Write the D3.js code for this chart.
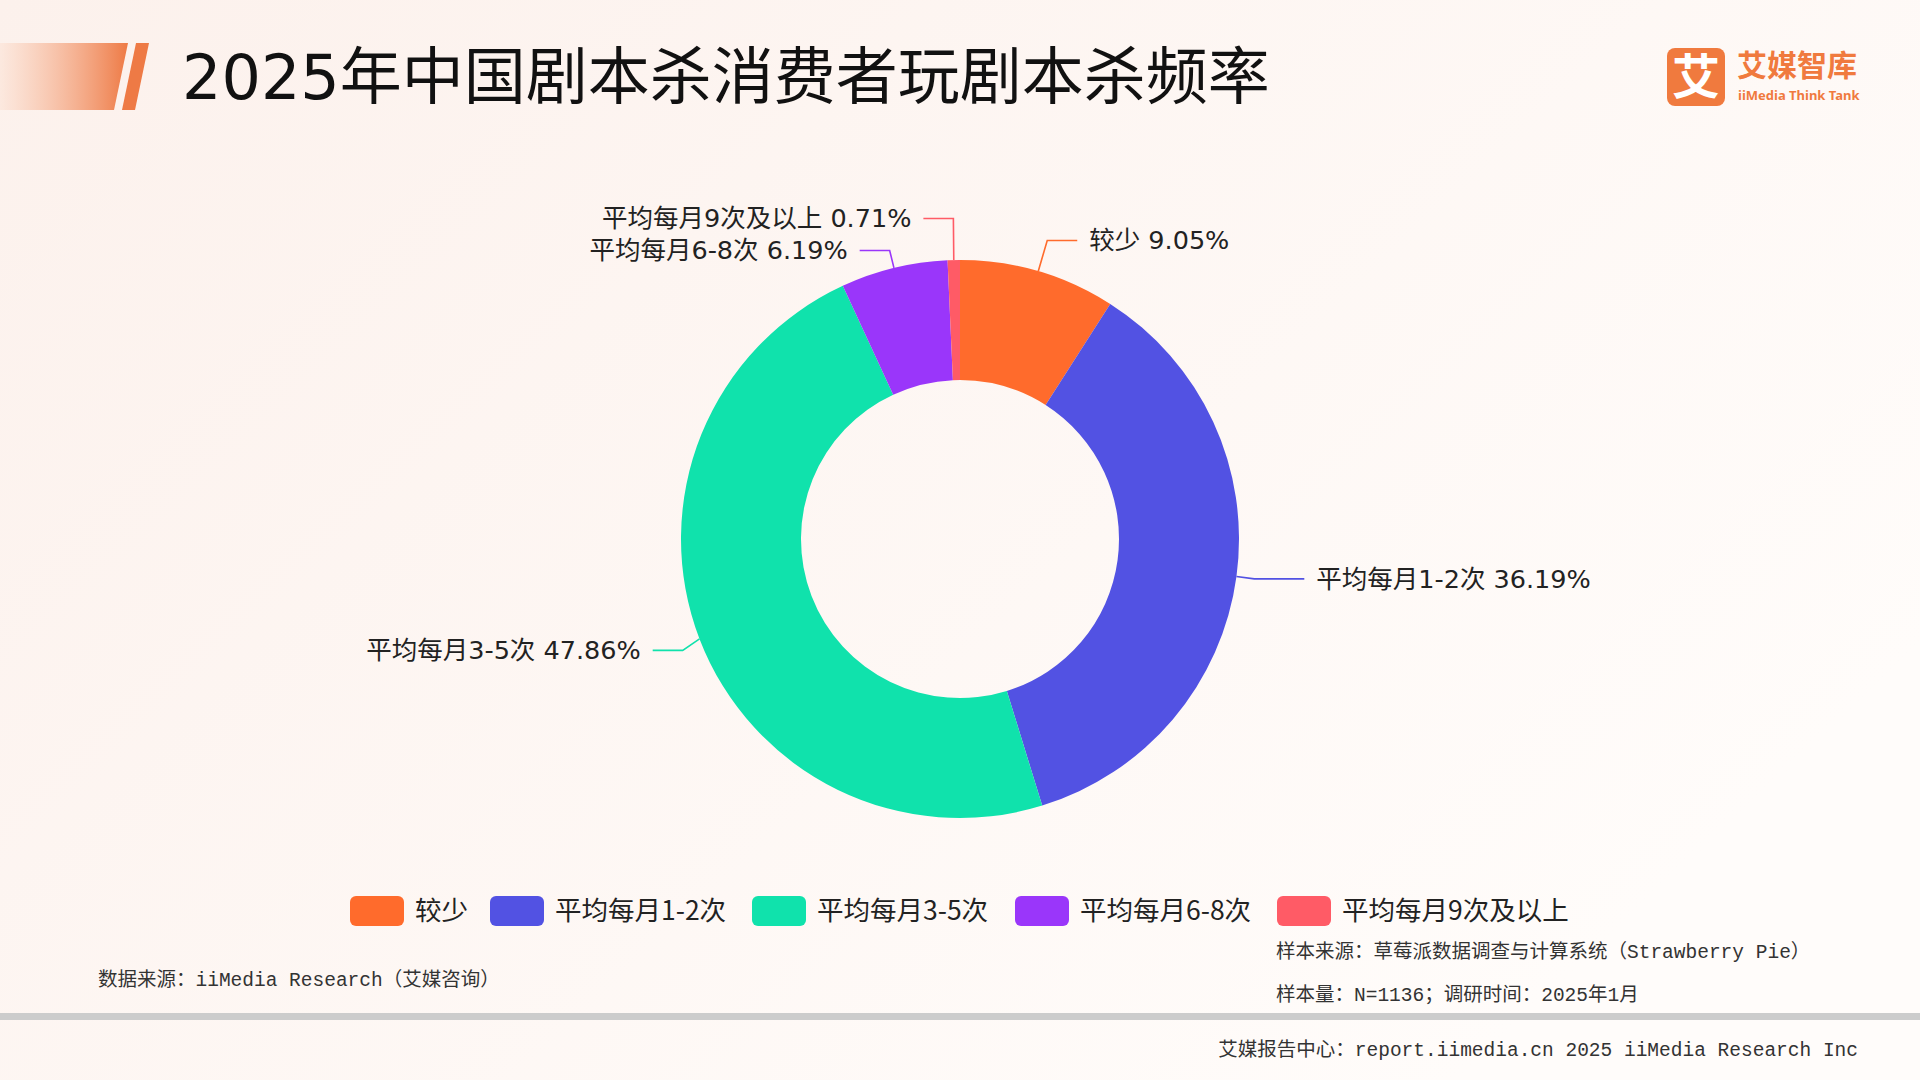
<!DOCTYPE html>
<html><head><meta charset="utf-8">
<script src="https://cdn.jsdelivr.net/npm/d3@7/dist/d3.min.js"></script>
<style>html,body{margin:0;padding:0;}svg{display:block;}text{font-family:"DejaVu Sans","Noto Sans CJK SC",sans-serif;}</style>
</head><body>
<script>
const categories = ["较少","平均每月1-2次","平均每月3-5次","平均每月6-8次","平均每月9次及以上"];
const values = [9.05,36.19,47.86,6.19,0.71];
const colors = ["#FF6B2C","#5252E3","#10E2AC","#9A36FA","#FF5B66"];
const title = "2025年中国剧本杀消费者玩剧本杀频率";
const W=1920,H=1080;
const svg=d3.select("body").append("svg").attr("width",W).attr("height",H);
const defs=svg.append("defs");
const bg=defs.append("linearGradient").attr("id","bg").attr("x1","0").attr("y1","0").attr("x2","1").attr("y2","0.6");
bg.append("stop").attr("offset","0").attr("stop-color","#FCF1EC");
bg.append("stop").attr("offset","1").attr("stop-color","#FFFCFA");
svg.append("rect").attr("width",W).attr("height",H).attr("fill","url(#bg)");
const bn=defs.append("linearGradient").attr("id","bn");
bn.append("stop").attr("offset","0").attr("stop-color","#FCE3D6").attr("stop-opacity",0.6);
bn.append("stop").attr("offset","1").attr("stop-color","#EE7A45");
svg.append("path").attr("d","M0,43 L128,43 L114,110 L0,110Z").attr("fill","url(#bn)");
svg.append("path").attr("d","M136,43 L149,43 L135,110 L122,110Z").attr("fill","#EE7A45");
svg.append("text").attr("x",182).attr("y",99).attr("font-size",62).attr("fill","#111").text(title);
const lg=svg.append("g").attr("transform","translate(1667,48)");
lg.append("rect").attr("width",58).attr("height",58).attr("rx",8).attr("fill","#F07A3E");
lg.append("text").attr("x",29).attr("y",46).attr("text-anchor","middle").attr("font-size",48).attr("font-weight",700).attr("fill","#fff").style("font-family","Noto Sans CJK SC").text("艾");
lg.append("text").attr("x",70).attr("y",28).attr("font-size",30).attr("font-weight",700).attr("fill","#F07A3E").style("font-family","Noto Sans CJK SC").text("艾媒智库");
lg.append("text").attr("x",71).attr("y",52).attr("font-size",13).attr("font-weight",700).attr("fill","#F07A3E").style("font-family","Noto Sans").text("iiMedia Think Tank");

const cx=960,cy=539,R=279,r0=159;
const pie=d3.pie().sort(null).value(d=>d)(values);
const arc=d3.arc().innerRadius(r0).outerRadius(R);
const g=svg.append("g").attr("transform",`translate(${cx},${cy})`);
g.selectAll("path.s").data(pie).join("path").attr("d",arc).attr("fill",(d,i)=>colors[i]);
const pts=pie.map((d,i)=>{const a=(d.startAngle+d.endAngle)/2;
 const p1=[Math.sin(a)*R,-Math.cos(a)*R];
 const p2=[Math.sin(a)*(R+18),-Math.cos(a)*(R+18)];
 return {i,a,p1,p2,right:p2[0]>=0};});
const left=pts.filter(p=>!p.right).sort((a,b)=>b.p2[1]-a.p2[1]);
for(let k=1;k<left.length;k++){if(left[k-1].p2[1]-left[k].p2[1]<32)left[k].p2[1]=left[k-1].p2[1]-32;}
pts.forEach(p=>{ if(p.right && p.a<0.5) p.p2=[Math.sin(p.a)*(R+32),-Math.cos(p.a)*(R+32)];
 if(p.i===2) p.p2[1]+=5;});
pts.forEach(p=>{
 const dir=p.right?1:-1;
 const p3=[p.p2[0]+dir*(p.i===1?50:30),p.p2[1]];
 g.append("polyline").attr("points",[p.p1,p.p2,p3].map(q=>q.join(",")).join(" "))
  .attr("fill","none").attr("stroke",colors[p.i]).attr("stroke-width",1.6);
 g.append("text").attr("x",p3[0]+dir*12).attr("y",p3[1]).attr("dy","0.35em")
  .attr("text-anchor",p.right?"start":"end").attr("font-size",25.5).attr("fill","#222")
  .text(categories[p.i]+" "+values[p.i].toFixed(2)+"%");
});
const lx=[350,490,752,1015,1277];
const leg=svg.append("g");
categories.forEach((c,i)=>{
 leg.append("rect").attr("x",lx[i]).attr("y",896).attr("width",54).attr("height",30).attr("rx",6).attr("fill",colors[i]);
 leg.append("text").attr("x",lx[i]+65).attr("y",911).attr("dy","0.35em").attr("font-size",26.5).attr("fill","#222").style("font-family","Noto Sans CJK SC").text(c);
});
function t(x,y,s,anchor){svg.append("text").attr("x",x).attr("y",y).attr("text-anchor",anchor||"start").attr("font-size",19.5).attr("fill","#333").style("font-family","'Liberation Mono','Noto Sans CJK SC',monospace").text(s);}
t(98,986,"数据来源：iiMedia Research（艾媒咨询）");
t(1276,958,"样本来源：草莓派数据调查与计算系统（Strawberry Pie）");
t(1276,1001,"样本量：N=1136；调研时间：2025年1月");
svg.append("rect").attr("x",0).attr("y",1013).attr("width",W).attr("height",7).attr("fill","#CCCCCC");
t(1858,1056,"艾媒报告中心：report.iimedia.cn  2025 iiMedia Research Inc","end");
</script>
</body></html>
